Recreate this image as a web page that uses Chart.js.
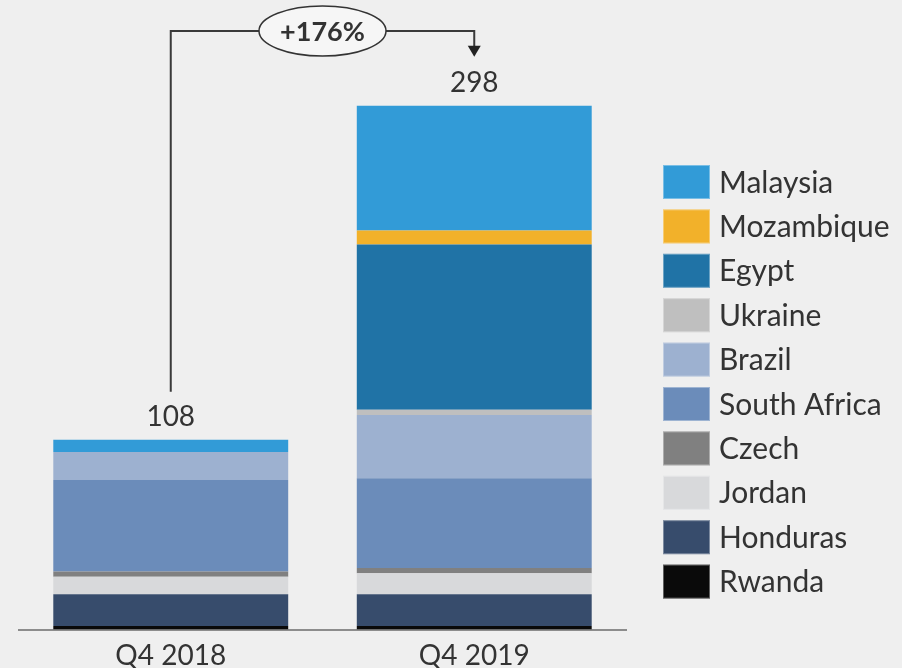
<!DOCTYPE html>
<html><head><meta charset="utf-8">
<script src="https://cdn.jsdelivr.net/npm/chart.js@4/dist/chart.umd.min.js"></script>
<style>html,body{margin:0;padding:0;background:#efefef;} canvas{display:block;}</style>
</head><body>
<canvas id="c" width="902" height="668"></canvas>
<script>
const categories = ['Q4 2018', 'Q4 2019'];
const rwanda      = [2, 2];
const honduras    = [18, 18];
const jordan      = [10, 12];
const czech       = [3, 3];
const southAfrica = [52, 51];
const brazil      = [16, 36];
const ukraine     = [0, 3];
const egypt       = [0, 94];
const mozambique  = [0, 8];
const malaysia    = [7, 71];
const totals      = [108, 298];

const FONT = 'Lato, "Open Sans", sans-serif';
const TEXT = '#333333';

const datasets = [
  {label: 'Rwanda', data: rwanda, backgroundColor: '#0a0a0a'},
  {label: 'Honduras', data: honduras, backgroundColor: '#374c6c'},
  {label: 'Jordan', data: jordan, backgroundColor: '#d8d9db'},
  {label: 'Czech', data: czech, backgroundColor: '#808080'},
  {label: 'South Africa', data: southAfrica, backgroundColor: '#6b8cba'},
  {label: 'Brazil', data: brazil, backgroundColor: '#9db1d0'},
  {label: 'Ukraine', data: ukraine, backgroundColor: '#bfbfbf'},
  {label: 'Egypt', data: egypt, backgroundColor: '#2073a6'},
  {label: 'Mozambique', data: mozambique, backgroundColor: '#f2b12a'},
  {label: 'Malaysia', data: malaysia, backgroundColor: '#329bd7'}
];

const overlay = {
  id: 'overlay',
  beforeDraw(chart) {
    const ctx = chart.ctx;
    ctx.save();
    ctx.fillStyle = '#efefef';
    ctx.fillRect(0, 0, chart.width, chart.height);
    ctx.restore();
  },
  afterDraw(chart) {
    const {ctx, chartArea, scales: {x, y}} = chart;
    ctx.save();
    // totals
    ctx.fillStyle = TEXT;
    ctx.font = '28px ' + FONT;
    ctx.textAlign = 'center';
    ctx.textBaseline = 'middle';
    totals.forEach((t, i) => {
      ctx.fillText(String(t), x.getPixelForValue(i), y.getPixelForValue(t) - 23);
    });
    // growth annotation
    const x0 = x.getPixelForValue(0), x1 = x.getPixelForValue(1);
    const lineY = chartArea.top - 29;
    const startY = y.getPixelForValue(totals[0]) - 48;
    const tipY = y.getPixelForValue(totals[1]) - 49;
    const cx = (x0 + x1) / 2, rx = 63.5, ry = 25;
    ctx.strokeStyle = '#3a3a3a';
    ctx.lineWidth = 2;
    ctx.beginPath();
    ctx.moveTo(x0, startY);
    ctx.lineTo(x0, lineY);
    ctx.lineTo(cx - rx, lineY);
    ctx.moveTo(cx + rx, lineY);
    ctx.lineTo(x1, lineY);
    ctx.lineTo(x1, tipY - 9);
    ctx.stroke();
    ctx.fillStyle = '#222';
    ctx.beginPath();
    ctx.moveTo(x1 - 6.5, tipY - 11);
    ctx.lineTo(x1 + 6.5, tipY - 11);
    ctx.lineTo(x1, tipY);
    ctx.closePath();
    ctx.fill();
    ctx.beginPath();
    ctx.ellipse(cx, lineY, rx, ry, 0, 0, Math.PI * 2);
    ctx.fillStyle = '#f6f6f6';
    ctx.fill();
    ctx.lineWidth = 1.5;
    ctx.strokeStyle = '#333';
    ctx.stroke();
    const pct = Math.round((totals[1] / totals[0] - 1) * 100);
    ctx.fillStyle = TEXT;
    ctx.font = 'bold 27px ' + FONT;
    ctx.fillText('+' + pct + '%', cx, lineY + 1);
    // legend (top to bottom = reverse stacking order)
    const lx = chartArea.right + 37, ly0 = 165, pitch = 44.4;
    ctx.textAlign = 'left';
    ctx.font = '30px ' + FONT;
    const items = chart.data.datasets.slice().reverse();
    items.forEach((ds, i) => {
      const top = ly0 + i * pitch;
      ctx.fillStyle = ds.backgroundColor;
      ctx.fillRect(lx, top, 47, 34);
      ctx.strokeStyle = 'rgba(255,255,255,0.35)';
      ctx.lineWidth = 1;
      ctx.strokeRect(lx + 0.5, top + 0.5, 46, 33);
      ctx.fillStyle = TEXT;
      ctx.fillText(ds.label, lx + 56, top + 18);
    });
    ctx.restore();
  }
};

new Chart(document.getElementById('c'), {
  type: 'bar',
  data: {labels: categories, datasets: datasets},
  options: {
    responsive: false,
    animation: false,
    layout: {padding: {top: 60, left: 19, right: 276, bottom: -13.5}},
    plugins: {legend: {display: false}, tooltip: {enabled: false}},
    datasets: {bar: {categoryPercentage: 0.774, barPercentage: 1.0, borderWidth: 0}},
    scales: {
      x: {
        stacked: true,
        grid: {display: false, drawTicks: false},
        border: {display: true, color: '#8c8c8c', width: 2},
        ticks: {color: TEXT, padding: 12, font: {family: FONT, size: 28, lineHeight: 1.0}}
      },
      y: {
        stacked: true,
        display: false,
        min: 0,
        max: 324
      }
    }
  },
  plugins: [overlay]
});
</script>
</body></html>
